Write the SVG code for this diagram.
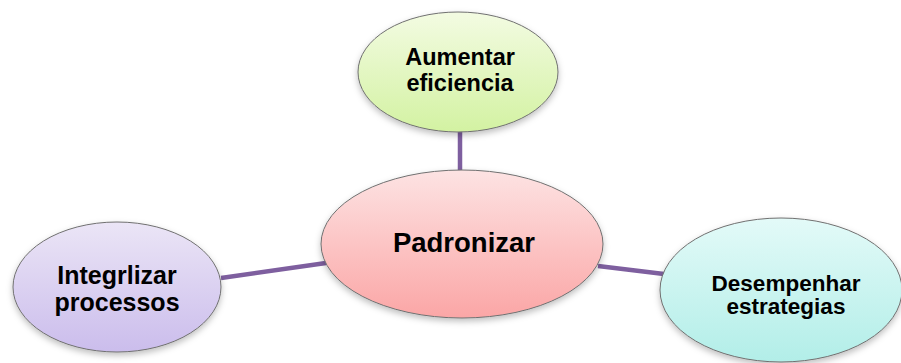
<svg xmlns="http://www.w3.org/2000/svg" width="901" height="363" viewBox="0 0 901 363">
<defs>
<linearGradient id="gGreen" x1="0" y1="0" x2="0" y2="1"><stop offset="0" stop-color="#f3fbe2"/><stop offset="1" stop-color="#d3f2a2"/></linearGradient>
<linearGradient id="gPink" x1="0" y1="0" x2="0" y2="1"><stop offset="0" stop-color="#fde3e3"/><stop offset="1" stop-color="#fba6a6"/></linearGradient>
<linearGradient id="gPurple" x1="0" y1="0" x2="0" y2="1"><stop offset="0" stop-color="#ebe5f6"/><stop offset="1" stop-color="#cbbdec"/></linearGradient>
<linearGradient id="gCyan" x1="0" y1="0" x2="0" y2="1"><stop offset="0" stop-color="#e3faf8"/><stop offset="1" stop-color="#b2eee8"/></linearGradient>
<filter id="sh" x="-10%" y="-10%" width="120%" height="130%"><feDropShadow dx="0" dy="3" stdDeviation="3" flood-color="#000" flood-opacity="0.25"/></filter>
</defs>
<style>
.node ellipse{stroke:#707070;stroke-width:1;filter:url(#sh)}
.node text{font-family:"Liberation Sans",Arial,sans-serif;font-weight:bold;fill:#000;text-anchor:middle}
.conn line{stroke:#7e5f9f;stroke-width:4.5;stroke-linecap:butt}
</style>
<rect width="901" height="363" fill="#fff"/>
<g id="connectors" class="conn">
<line x1="460" y1="130" x2="460" y2="172"/>
<line x1="221" y1="278" x2="326" y2="263"/>
<line x1="598" y1="266" x2="664" y2="274"/>
</g>
<g id="node-aumentar" class="node">
<ellipse cx="458" cy="72" rx="100" ry="60" fill="url(#gGreen)"/>
<text x="460" y="65" font-size="23.5">Aumentar</text>
<text x="460" y="91" font-size="23.5">eficiencia</text>
</g>
<g id="node-padronizar" class="node">
<ellipse cx="462" cy="244" rx="141" ry="74" fill="url(#gPink)"/>
<text x="464" y="252" font-size="27.5">Padronizar</text>
</g>
<g id="node-integrlizar" class="node">
<ellipse cx="117" cy="287" rx="104" ry="65" fill="url(#gPurple)"/>
<text x="117" y="284" font-size="25">Integrlizar</text>
<text x="117" y="311" font-size="25">processos</text>
</g>
<g id="node-desempenhar" class="node">
<ellipse cx="781" cy="290" rx="121" ry="72" fill="url(#gCyan)"/>
<text x="786" y="291" font-size="22.5">Desempenhar</text>
<text x="786" y="314" font-size="22.5">estrategias</text>
</g>
</svg>
